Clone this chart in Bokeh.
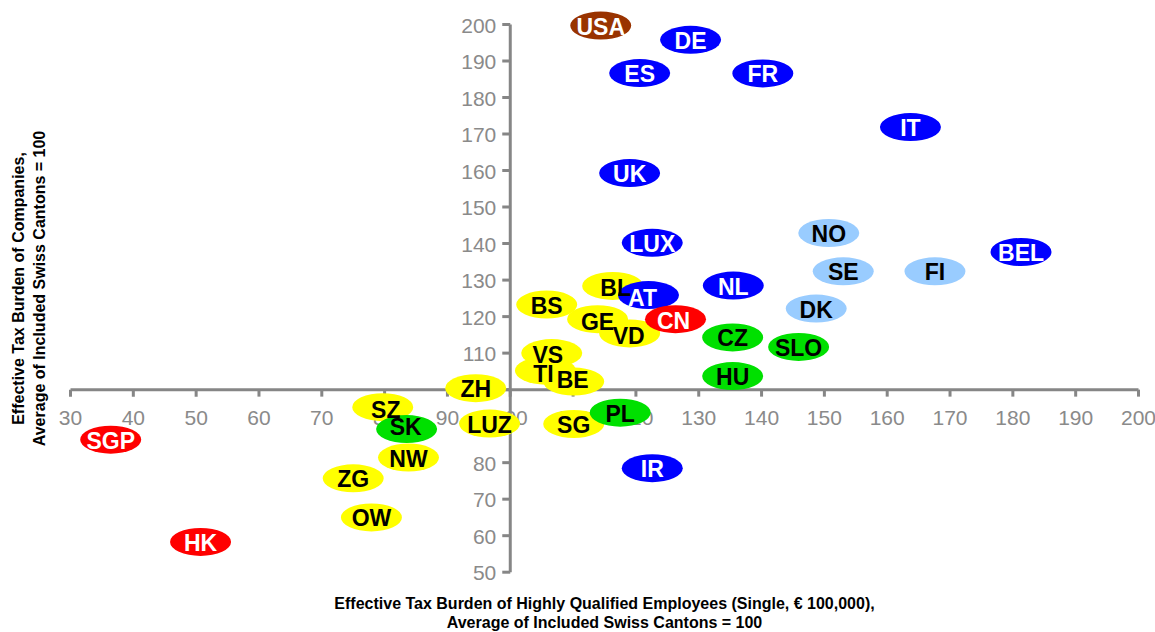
import math
from bokeh.plotting import figure
from bokeh.models import Range1d, Label
from bokeh.core.properties import value
from bokeh.embed import file_html
from bokeh.resources import INLINE

# ---------------- data ----------------
swiss_names = ["ZH", "SZ", "LUZ", "NW", "ZG", "OW", "BS", "BL", "GE", "VD", "VS", "TI", "BE", "SG"]
swiss_x = [94.5, 79.7, 96.7, 83.8, 75.0, 77.9, 105.8, 116.3, 113.9, 119.0, 106.6, 105.6, 110.1, 110.1]
swiss_y = [100.4, 95.2, 90.7, 81.4, 75.7, 65.0, 123.3, 128.4, 119.3, 115.4, 110.0, 105.2, 102.2, 90.6]

eu_names = ["DE", "ES", "FR", "IT", "UK", "LUX", "BEL", "NL", "AT", "IR"]
eu_x = [128.7, 120.6, 140.2, 163.7, 119.0, 122.6, 181.3, 135.5, 122.0, 122.6]
eu_y = [195.8, 186.7, 186.6, 171.9, 159.3, 140.2, 137.7, 128.5, 125.9, 78.5]

nordic_names = ["NO", "SE", "FI", "DK"]
nordic_x = [150.7, 153.0, 167.6, 148.7]
nordic_y = [142.9, 132.4, 132.4, 122.2]

cee_names = ["CZ", "SLO", "HU", "SK", "PL"]
cee_x = [135.4, 145.9, 135.4, 83.5, 117.5]
cee_y = [114.3, 111.7, 103.7, 89.2, 93.7]

asia_names = ["CN", "SGP", "HK"]
asia_x = [126.3, 36.4, 50.7]
asia_y = [119.3, 86.3, 58.3]

usa_names = ["USA"]
usa_x = [114.4]
usa_y = [199.7]

x_ticks = list(range(30, 201, 10))
y_ticks = list(range(50, 201, 10))
x_title = ["Effective Tax Burden of Highly Qualified Employees (Single, \u20ac 100,000),",
           "Average of Included Swiss Cantons = 100"]
y_title = ["Effective Tax Burden of Companies,",
           "Average of Included Swiss Cantons = 100"]

# ---------------- styles ----------------
groups = [
    (swiss_names, swiss_x, swiss_y, "#FFFF00", "black"),
    (eu_names, eu_x, eu_y, "#0000FF", "white"),
    (nordic_names, nordic_x, nordic_y, "#99CCFF", "black"),
    (cee_names, cee_x, cee_y, "#00E000", "black"),
    (asia_names, asia_x, asia_y, "#FF0000", "white"),
    (usa_names, usa_x, usa_y, "#993300", "white"),
]
label_shift = {"AT": (-6, 2), "BL": (3, 1), "SZ": (3, 2), "SK": (-1, -3), "BE": (-1, -3),
               "VS": (-4, 1), "TI": (-2, 2), "GE": (0, 2), "VD": (-1, 2), "CN": (-2, 1)}

AXIS_COLOR = "#868686"
TICK_LABEL_COLOR = "#8a8a8a"
FONT = "Liberation Sans"

# ---------------- geometry ----------------
W, H = 1155, 632
OFF = 0
sx = (1138 - 70) / (x_ticks[-1] - x_ticks[0])
sy = (571.7 - 24) / (y_ticks[-1] - y_ticks[0])
x_start = x_ticks[0] - (70 - OFF) / sx
x_end = x_start + W / sx
y_end = y_ticks[-1] + (24 - OFF) / sy
y_start = y_end - H / sy
cross_x, cross_y = 100, 100


def px_x(px):
    return x_start + (px - OFF) / sx


def px_y(py):
    return y_end - (py - OFF) / sy


p = figure(width=W, height=H, x_range=Range1d(x_start, x_end), y_range=Range1d(y_start, y_end),
           output_backend="svg", toolbar_location=None, min_border=0,
           x_axis_type=None, y_axis_type=None, title=None)
p.outline_line_color = None
p.background_fill_color = "white"
p.border_fill_color = "white"

# axes
p.segment(x0=[x_ticks[0]], y0=[cross_y], x1=[x_ticks[-1]], y1=[cross_y],
          line_color=AXIS_COLOR, line_width=3)
p.segment(x0=[cross_x], y0=[y_ticks[0]], x1=[cross_x], y1=[y_ticks[-1]],
          line_color=AXIS_COLOR, line_width=3)
p.ray(x=x_ticks, y=[cross_y] * len(x_ticks), length=7, angle=-math.pi / 2, length_units="screen",
      line_color=AXIS_COLOR, line_width=3)
p.ray(x=[cross_x] * len(y_ticks), y=y_ticks, length=8, angle=math.pi, length_units="screen",
      line_color=AXIS_COLOR, line_width=3)
p.text(x=x_ticks, y=[cross_y] * len(x_ticks), text=[str(t) for t in x_ticks],
       y_offset=28, text_align="center", text_baseline="middle",
       text_font=value(FONT), text_font_size="21px", text_color=TICK_LABEL_COLOR)
p.text(x=[cross_x] * len(y_ticks), y=y_ticks, text=[str(t) for t in y_ticks],
       x_offset=-14, y_offset=1, text_align="right", text_baseline="middle",
       text_font=value(FONT), text_font_size="21px", text_color=TICK_LABEL_COLOR)

# ellipses
for names, xs, ys, fill, tcol in groups:
    p.ellipse(x=xs, y=ys, width=61, height=28, width_units="screen", height_units="screen",
              fill_color=fill, line_color=None)

# labels
for names, xs, ys, fill, tcol in groups:
    for n, xv, yv in zip(names, xs, ys):
        dx, dy = label_shift.get(n, (0, 0))
        p.text(x=[xv], y=[yv], text=[n], x_offset=dx, y_offset=dy + 1,
               text_align="center", text_baseline="middle",
               text_font=value(FONT), text_font_style="bold", text_font_size="23px",
               text_color=tcol)

# axis titles
for i, line in enumerate(x_title):
    p.add_layout(Label(x=px_x(604), y=px_y(603 + 19 * i), text=line, text_align="center",
                       text_baseline="middle", text_font=FONT, text_font_style="bold",
                       text_font_size="16px", text_color="black"))
for i, line in enumerate(y_title):
    p.add_layout(Label(x=px_x(18 + 21 * i), y=px_y(288), text=line, angle=math.pi / 2,
                       text_align="center", text_baseline="middle", text_font=FONT,
                       text_font_style="bold", text_font_size="16px", text_color="black"))

open("out.html", "w").write(file_html(p, INLINE))
